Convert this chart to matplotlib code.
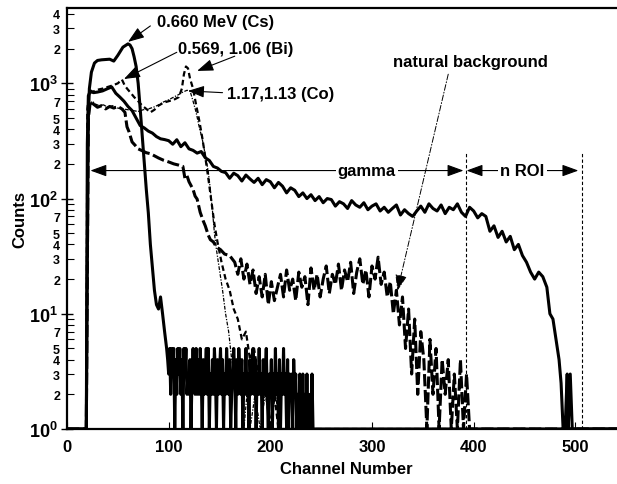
import numpy as np
import matplotlib
matplotlib.use("Agg")
import matplotlib.pyplot as plt
from matplotlib.ticker import LogLocator, FuncFormatter, FixedLocator

plt.rcParams['font.family'] = ['Liberation Sans', 'DejaVu Sans']
plt.rcParams['font.weight'] = 'bold'
plt.rcParams['mathtext.fontset'] = 'custom'
plt.rcParams['mathtext.rm'] = 'Liberation Sans:bold'
plt.rcParams['mathtext.bf'] = 'Liberation Sans:bold'

# Cs-137 spectrum (solid), head read point by point, tail as single-digit counts
cs_ch = [0, 19, 20, 21, 22, 24, 27, 30, 34, 38, 42, 46, 50, 55, 60, 62, 64, 66,
         68, 70, 72, 74, 76, 78, 80, 82, 84, 86, 88, 90, 92, 94, 96]
cs_counts = [1, 1, 30, 500, 900, 1250, 1500, 1580, 1600, 1610, 1620, 1560, 1750,
             2060, 2200, 2150, 2000, 1700, 1400, 1000, 600, 350, 200, 120, 75,
             40, 25, 16, 12, 11, 14, 10, 7]
cs_tail = ("54352535142535241535232413532524253142352513242531423524132532"
           "41235314253241325231423524132523142352132413252314132523141323"
           "142312132131213112131")

# neutron source spectrum (solid, long)
n_ch = [0, 19, 20, 21, 23, 26, 30, 35, 40, 44, 48, 52, 56, 60, 64, 68, 72, 76,
        80, 84, 88, 92, 96]
n_counts = [1, 1, 300, 780, 860, 830, 840, 860, 900, 930, 820, 760, 700, 630,
            580, 500, 430, 410, 385, 370, 345, 330, 325]
n_mid = [318, 296, 324, 282, 305, 270, 262, 248, 256, 226, 214, 190, 184, 172,
         168, 150, 166, 158, 142, 160, 148, 138, 150, 132, 146, 140, 124, 138,
         128, 112, 124, 118, 104, 112, 100, 108, 96, 104, 92, 100, 98, 86, 94,
         90, 82, 96, 88, 84, 92, 80, 86, 90, 78, 84, 76, 82, 88, 72, 80, 74, 70,
         78, 86, 76, 90, 82, 78, 88, 74, 84, 80, 90, 76, 70, 84, 78, 68, 74]
n_tail_ch = [412, 416, 420, 424, 428, 432, 436, 440, 444, 448, 452, 456, 460,
             464, 468, 472, 475, 478, 481, 484, 486, 488, 490, 492, 493, 495,
             497, 541]
n_tail = [70, 52, 58, 46, 52, 42, 47, 36, 40, 32, 28, 23, 20, 23, 21, 17, 10, 9,
          6, 4, 2.5, 1, 1, 3, 1, 3, 1, 1]

# natural background (heavy dashed)
bg_ch = [0, 19, 21, 23, 26, 30, 34, 38, 42, 46, 50, 54, 57, 59, 61, 64, 67, 70,
         74, 78, 82, 86, 90, 95, 100, 105, 110, 114, 116, 118, 120, 124, 126,
         128, 131, 134, 136, 139, 141, 144, 147, 151, 155, 160, 165]
bg_counts = [1, 1, 500, 700, 660, 620, 640, 600, 630, 610, 630, 600, 560, 420,
             380, 310, 290, 270, 260, 250, 245, 235, 225, 215, 208, 200, 195,
             190, 150, 158, 140, 120, 105, 99, 76, 64, 58, 48, 44, 42, 38, 36,
             33, 32, 28]
bg_noise = [22, 30, 20, 27, 18, 24, 15, 21, 14, 22, 12, 19, 13, 17, 22, 14, 24,
            16, 20, 13, 23, 17, 21, 12, 25, 16, 22, 14, 20, 26, 15, 22, 18, 27,
            16, 24, 19, 28, 15, 23, 30, 18, 24, 14, 26, 20, 31, 18, 23, 14, 19,
            10, 16, 8, 14, 5, 11, 3, 9, 2, 7, 4, 1, 6, 2, 5, 1, 4, 2, 4, 1, 3,
            1, 4, 1, 3, 1]
bg_end_ch = [400, 541]
bg_end = [1, 1]

# Bi-207 (medium dashed)
bi_ch = [0, 19, 20, 22, 26, 30, 35, 40, 45, 50, 54, 57, 60, 63, 66, 70, 74, 78,
         82, 86, 90, 95, 100, 105, 110, 113, 115, 117, 119, 121, 124, 127, 130,
         133, 136, 139, 142, 145, 148, 152, 156, 160, 164, 168, 172, 176, 180,
         184, 188, 192, 196, 200, 204, 208, 541]
bi_counts = [1, 1, 600, 820, 850, 880, 900, 930, 960, 1000, 1080, 950, 880, 820,
             760, 700, 640, 600, 560, 590, 640, 680, 700, 720, 760, 900, 1200,
             1400, 1350, 1100, 900, 650, 480, 340, 230, 150, 95, 60, 42, 28, 20,
             16, 11, 9, 6, 7, 4, 5, 3, 2, 3, 1, 2, 1, 1]

# Co-60 (thin dotted)
co_ch = [0, 19, 20, 22, 25, 28, 32, 36, 40, 45, 50, 55, 60, 65, 70, 75, 80, 85,
         90, 95, 100, 105, 110, 114, 118, 121, 124, 127, 130, 133, 136, 139,
         141, 143, 145, 147, 150, 153, 156, 159, 162, 165, 168, 171, 174, 177,
         180, 185, 190, 195, 200, 205, 210, 541]
co_counts = [1, 1, 400, 650, 700, 660, 640, 650, 620, 640, 610, 600, 590, 580,
             570, 590, 600, 620, 650, 690, 720, 760, 800, 840, 870, 860, 700,
             560, 420, 330, 240, 170, 120, 80, 50, 36, 24, 16, 10, 7, 4, 3, 2,
             3, 1, 2, 1, 2, 1, 2, 1, 2, 1, 1]

fig = plt.figure(figsize=(6.17, 4.85), dpi=100)
ax = fig.add_axes([67 / 617, 55 / 485, 550 / 617, 420.7 / 485])

cs_x = np.concatenate([cs_ch, 98 + np.arange(len(cs_tail))])
cs_y = np.concatenate([cs_counts, [int(c) for c in cs_tail]])
cs_x = np.append(cs_x, 541)
cs_y = np.append(cs_y, 1)

n_x = np.concatenate([n_ch, np.arange(100, 100 + 4 * len(n_mid), 4), n_tail_ch])
n_y = np.concatenate([n_counts, n_mid, n_tail])

bg_x = np.concatenate([bg_ch, 168 + 3 * np.arange(len(bg_noise)), bg_end_ch])
bg_y = np.concatenate([bg_counts, bg_noise, bg_end])

ax.plot(co_ch, co_counts, color="black", lw=0.9, dashes=(3, 1.2, 1, 1.2))
ax.plot(bi_ch, bi_counts, color="black", lw=1.6, dashes=(2.5, 1.5))
ax.plot(bg_x, bg_y, color="black", lw=2.2, dashes=(4, 1.2))
ax.plot(n_x, n_y, color="black", lw=2.2)
ax.plot(cs_x, cs_y, color="black", lw=2.2)

ax.set_yscale("log")
ax.set_xlim(0, 541)
ax.set_ylim(1, 4480)

ax.xaxis.set_major_locator(FixedLocator([0, 100, 200, 300, 400, 500]))
ax.yaxis.set_major_locator(LogLocator(base=10, numticks=10))
ax.yaxis.set_minor_locator(LogLocator(base=10, subs=np.arange(2, 10), numticks=20))
ax.yaxis.set_major_formatter(FuncFormatter(
    lambda v, p: r"$\mathbf{10^{%d}}$" % round(np.log10(v))))


def minor_label(v, p):
    m = int(round(v / 10 ** np.floor(np.log10(v) + 1e-9)))
    return str(m) if m in (2, 3, 4, 5, 7) else ""


ax.yaxis.set_minor_formatter(FuncFormatter(minor_label))
ax.tick_params(axis="y", which="major", direction="inout", length=9, width=1,
               labelsize=13, pad=2)
ax.tick_params(axis="y", which="minor", direction="in", length=5, width=0.8,
               labelsize=9, pad=5)
ax.tick_params(axis="x", which="major", direction="in", length=5, width=0.8,
               labelsize=12, pad=7)
ax.spines["right"].set_visible(False)
for s in ["left", "top", "bottom"]:
    ax.spines[s].set_linewidth(1.6)

fig.text(20 / 617, 1 - 220 / 485, "Counts", rotation=90, ha="center",
         va="center", fontsize=12, fontweight="bold")
fig.text(346 / 617, 1 - 470 / 485, "Channel Number", ha="center", va="center",
         fontsize=12, fontweight="bold")

arrow = dict(arrowstyle="-|>,head_length=0.55,head_width=0.2", color="black",
             lw=0.8, mutation_scale=18, shrinkA=0, shrinkB=0)
fs = 12

ax.text(89, 3420, "0.660 MeV (Cs)", fontsize=fs, fontweight="bold", va="center")
ax.annotate("", xy=(60, 2290), xytext=(82, 3150), arrowprops=arrow)

ax.text(109, 1990, "0.569, 1.06 (Bi)", fontsize=fs, fontweight="bold", va="center")
ax.annotate("", xy=(56, 1090), xytext=(108, 1860), arrowprops=arrow)
ax.annotate("", xy=(128, 1282), xytext=(165, 1720), arrowprops=arrow)

ax.text(157, 810, "1.17,1.13 (Co)", fontsize=fs, fontweight="bold", va="center")
ax.annotate("", xy=(119, 860), xytext=(153, 830), arrowprops=arrow)

ax.text(397, 1535, "natural background", fontsize=fs, fontweight="bold",
        ha="center", va="center")
ax.annotate("", xy=(325, 15.8), xytext=(375, 1200),
            arrowprops=dict(arrow, lw=0.7, linestyle=(0, (6, 2, 1, 2))))

ax.annotate("", xy=(23, 175), xytext=(390, 175),
            arrowprops=dict(arrow, arrowstyle="<|-|>,head_length=0.55,head_width=0.2"))
ax.text(295, 175, "gamma", fontsize=fs, fontweight="bold", ha="center",
        va="center", bbox=dict(facecolor="white", edgecolor="none", pad=1.5))
ax.annotate("", xy=(393, 175), xytext=(503, 175),
            arrowprops=dict(arrow, arrowstyle="<|-|>,head_length=0.55,head_width=0.2"))
ax.text(448, 175, "n ROI", fontsize=fs, fontweight="bold", ha="center",
        va="center", bbox=dict(facecolor="white", edgecolor="none", pad=1.5))
ax.vlines([392, 507], 1, 250, colors="black", lw=0.8, linestyles=(0, (3, 2)))

fig.savefig("out.png", dpi=100)
